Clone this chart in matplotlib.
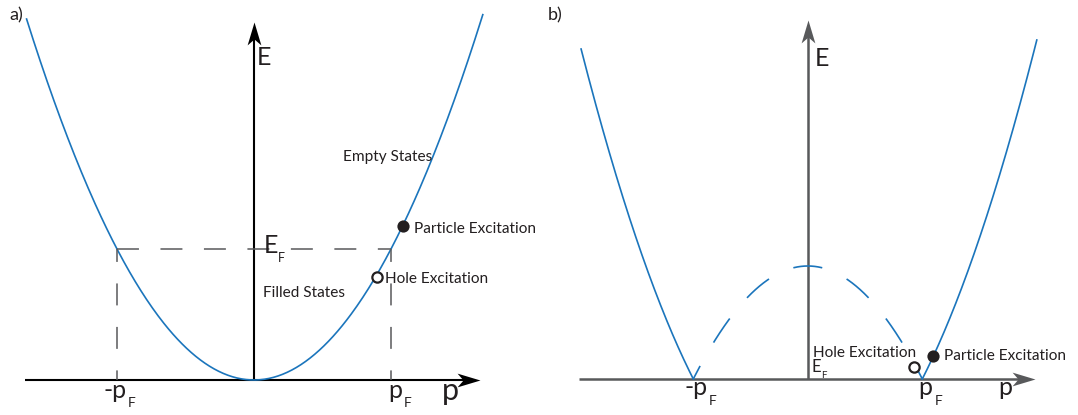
import numpy as np
import matplotlib
matplotlib.use('Agg')
import matplotlib.pyplot as plt
from matplotlib.path import Path

plt.rcParams['font.family'] = ['Lato', 'DejaVu Sans']
plt.rcParams['lines.scale_dashes'] = False

# momentum in units of p_F, energy in units of E_F
p_F = 1.0
E_F = 1.0

# a) free electron band E = E_F (p/p_F)^2
band_a_p = [-1.66, 1.67]
particle_a = [1.09, 1.176]
hole_a = [0.896, 0.786]

# b) excitation energy |E - E_F|, solid above p_F, dashed (folded) below
band_b_p = [-1.98, 2.0]
particle_b = [1.096, 0.201]
hole_b = [0.93, 0.11]

blue = '#1b75bc'
ink = '#231f20'
grey = '#58595b'
lab = 11.1


def arrow_marker(direction):
    L, W, N = 1.0, 0.3, 0.26
    verts = [(0, 0), (-L, W), (-L + N, 0), (-L, -W), (0, 0)]
    if direction == 'up':
        verts = [(-y, x) for x, y in verts]
    codes = [Path.MOVETO, Path.LINETO, Path.LINETO, Path.LINETO, Path.CLOSEPOLY]
    return Path(verts, codes)


def draw_axes(ax, x0, x1, y1, col, lw, gap_x, gap_y):
    ax.plot([x0, x1 - gap_x], [0, 0], color=col, lw=lw, solid_capstyle='butt')
    ax.plot([0, 0], [0, y1 - gap_y], color=col, lw=lw, solid_capstyle='butt')
    ax.plot([x1], [0], marker=arrow_marker('right'), ms=33, color=col, mew=0)
    ax.plot([0], [y1], marker=arrow_marker('up'), ms=33, color=col, mew=0)


def txt(ax, x, y, s, size):
    ax.text(x, y, s, fontsize=size, color=ink, ha='left', va='baseline')


fig = plt.figure(figsize=(10.78, 4.15), dpi=100)
ax_a = fig.add_axes([0, 0, 540 / 1078, 1])
ax_b = fig.add_axes([540 / 1078, 0, 538 / 1078, 1])

# ---- panel a ----
ax_a.set_xlim(-254 / 137, 286 / 137)
ax_a.set_ylim(-35 / 131, 380 / 131)
ax_a.axis('off')

draw_axes(ax_a, -1.67, 1.65, 2.733, 'black', 1.5, 0.07, 0.09)

p = np.linspace(band_a_p[0], band_a_p[1], 400)
ax_a.plot(p, E_F * (p / p_F) ** 2, color=blue, lw=1.2)

# Fermi level and Fermi momenta
ax_a.plot([-p_F, p_F], [E_F, E_F], color=grey, lw=1.1, linestyle=(0, (15.8, 15.5)))
for s in (-1, 1):
    ax_a.plot([s * p_F, s * p_F], [E_F, 0], color=grey, lw=1.1,
              linestyle=(6.5, (15.8, 15.5)))

ax_a.plot(*particle_a, 'o', ms=8.8, color=ink, mew=0)
ax_a.plot(*hole_a, 'o', ms=7.4, mfc='white', mec=ink, mew=1.6)

txt(ax_a, -1.788, 2.748, 'a)', 13)
txt(ax_a, 0.022, 2.405, 'E', 18)
txt(ax_a, 0.068, 0.967, 'E', 18)
txt(ax_a, 0.173, 0.898, 'F', 9)
txt(ax_a, 0.652, 1.674, 'Empty States', lab)
txt(ax_a, 0.068, 0.631, 'Filled States', lab)
txt(ax_a, 1.168, 1.120, 'Particle Excitation', lab)
txt(ax_a, 0.956, 0.743, 'Hole Excitation', lab)
txt(ax_a, -1.102, -0.134, '-p', 18)
txt(ax_a, -0.92, -0.204, 'F', 10)
txt(ax_a, 0.98, -0.134, 'p', 18)
txt(ax_a, 1.09, -0.204, 'F', 10)
txt(ax_a, 1.372, -0.156, 'p', 22)

# ---- panel b ----
ax_b.set_xlim(-267.8 / 114.5, 270.2 / 114.5)
ax_b.set_ylim(-36 / 113, 379 / 113)
ax_b.axis('off')

draw_axes(ax_b, -1.996, 1.984, 3.177, grey, 1.8, 0.08, 0.1)

for a, b in ((band_b_p[0], -p_F), (p_F, band_b_p[1])):
    p = np.linspace(a, b, 200)
    ax_b.plot(p, np.abs((p / p_F) ** 2 - 1), color=blue, lw=1.2)

for s in (-1, 1):
    p = np.linspace(0, s * p_F, 200)
    ax_b.plot(p, np.abs((p / p_F) ** 2 - 1), color=blue, lw=1.2,
              linestyle=(10.4, (20.9, 19.4)))

ax_b.plot(*particle_b, 'o', ms=8.8, color=ink, mew=0)
ax_b.plot(*hole_b, 'o', ms=7.4, mfc='white', mec=ink, mew=1.6)

txt(ax_b, -2.269, 3.177, 'b)', 13)
txt(ax_b, 0.063, 2.77, 'E', 18)
txt(ax_b, 0.043, 0.192, 'Hole Excitation', lab)
txt(ax_b, 0.034, 0.065, 'E', 12)
txt(ax_b, 0.115, 0.006, 'F', 7)
txt(ax_b, 1.192, 0.168, 'Particle Excitation', lab)
txt(ax_b, -1.074, -0.146, '-p', 18)
txt(ax_b, -0.863, -0.23, 'F', 10)
txt(ax_b, 0.965, -0.146, 'p', 18)
txt(ax_b, 1.109, -0.23, 'F', 10)
txt(ax_b, 1.667, -0.146, 'p', 18)

fig.savefig('out.png', dpi=100)
